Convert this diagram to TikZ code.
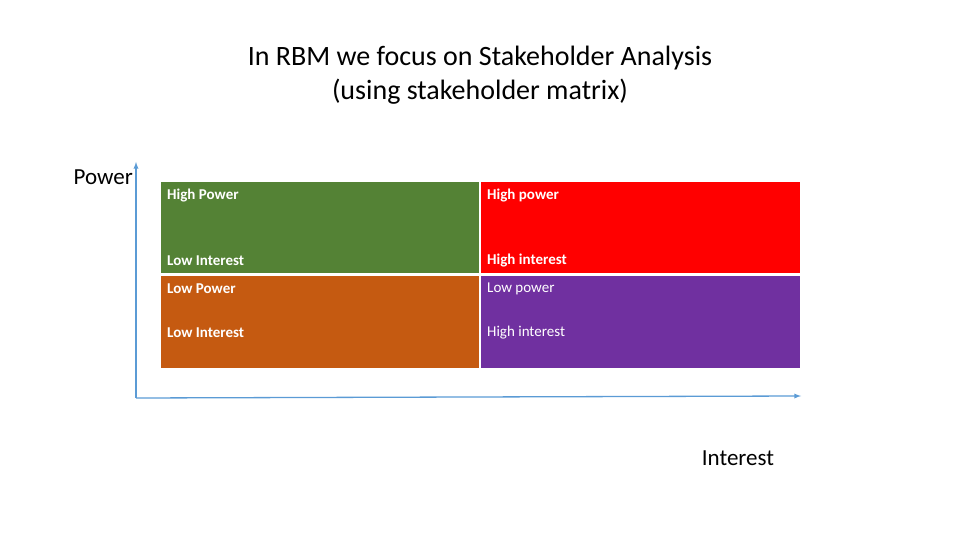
\documentclass[tikz,border=0pt]{standalone}
\usepackage{fontspec}
\setmainfont{Carlito}
\begin{document}
\begin{tikzpicture}[x=1pt,y=-1pt,
  cell/.style={anchor=north west,minimum width=318pt,minimum height=91pt,inner sep=0pt,draw=none},
  ctext/.style={anchor=west,text=white,font=\fontsize{15}{18}\selectfont,inner sep=0pt},
  axis/.style={draw=axisblue,line width=1.3pt,-latex}]
\definecolor{cgreen}{HTML}{548235}
\definecolor{cred}{HTML}{FF0000}
\definecolor{corange}{HTML}{C55A11}
\definecolor{cpurple}{HTML}{7030A0}
\definecolor{axisblue}{HTML}{5B9BD5}
\useasboundingbox (0,0) rectangle (960,540);
\node[cell,fill=cgreen] (g) at (161,182) {};
\node[cell,fill=cred,minimum width=319pt] (r) at (481,182) {};
\node[cell,fill=corange,minimum height=92pt] (o) at (161,276) {};
\node[cell,fill=cpurple,minimum width=319pt,minimum height=92pt] (p) at (481,276) {};
\node[ctext] (g1) at (167,196) {\bfseries High Power};
\node[ctext] (g2) at (167,261) {\bfseries Low Interest};
\node[ctext] (r1) at (487,196) {\bfseries High power};
\node[ctext] (r2) at (487,261) {\bfseries High interest};
\node[ctext] (o1) at (167,289) {\bfseries Low Power};
\node[ctext] (o2) at (167,333) {\bfseries Low Interest};
\node[ctext] (p1) at (487,289) {Low power};
\node[ctext] (p2) at (487,333) {High interest};
\coordinate (origin) at (136,398);
\coordinate (ytop) at (136,162);
\coordinate (xend) at (801,396);
\draw[axis] (origin) -- (ytop);
\draw[axis] (origin) -- (xend);
\node[font=\fontsize{23}{28}\selectfont,anchor=east,inner sep=0pt] (pw) at (133,177) {Power};
\node[font=\fontsize{23}{28}\selectfont,anchor=center,inner sep=0pt] (in) at (738,458) {Interest};
\node[font=\fontsize{28}{34}\selectfont,align=center,inner sep=0pt] (t) at (480,75) {In RBM we focus on Stakeholder Analysis\\(using stakeholder matrix)};
\end{tikzpicture}
\end{document}
